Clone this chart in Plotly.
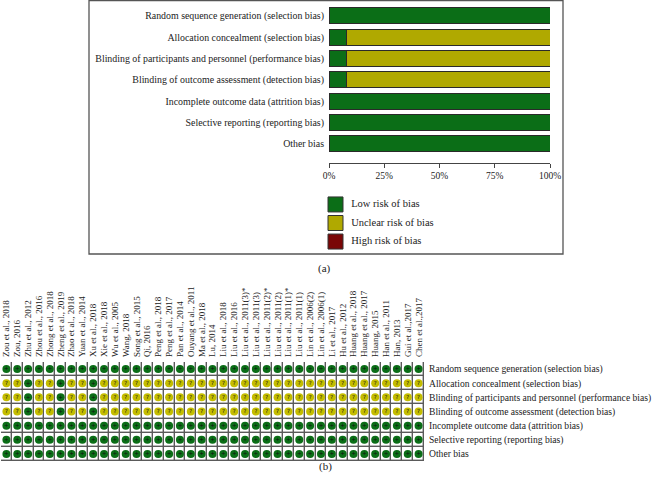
import plotly.graph_objects as go

domains = [
    "Random sequence generation (selection bias)",
    "Allocation concealment (selection bias)",
    "Blinding of participants and personnel (performance bias)",
    "Blinding of outcome assessment (detection bias)",
    "Incomplete outcome data (attrition bias)",
    "Selective reporting (reporting bias)",
    "Other bias",
]

studies = [
    "Zou et al., 2018", "Zou, 2016", "Zhu et al., 2012", "Zhou et al., 2016",
    "Zhong et al., 2018", "Zheng et al., 2019", "Zhao et al., 2018", "Yuan et al., 2014",
    "Xu et al., 2018", "Xie et al., 2018", "Wu et al., 2005", "Wang, 2018",
    "Song et al., 2015", "Qi, 2016", "Peng et al., 2018", "Peng et al., 2017",
    "Pan et al., 2014", "Ouyang et al., 2011", "Ma et al., 2018", "Lu, 2014",
    "Liu et al., 2018", "Liu et al., 2016", "Liu et al., 2011(3)*", "Liu et al., 2011(3)",
    "Liu et al., 2011(2)*", "Liu et al., 2011(2)", "Liu et al., 2011(1)*", "Liu et al., 2011(1)",
    "Lin et al., 2006(2)", "Lin et al., 2006(1)", "Li et al., 2017", "Hu et al., 2012",
    "Huang et al., 2018", "Huang et al., 2017", "Huang, 2015", "Han et al., 2011",
    "Han, 2013", "Gui et al.,2017", "Chen et al.,2017",
]

# judgements per domain ("+" low risk, "?" unclear, "-" high), one char per study (groups of 10)
judgements = [
    "++++++++++ ++++++++++ ++++++++++ +++++++++",
    "??+??+??+? ?????????? ?????????? ?????????",
    "??+??+??+? ?????????? ?????????? ?????????",
    "??+??+??+? ?????????? ?????????? ?????????",
    "++++++++++ ++++++++++ ++++++++++ +++++++++",
    "++++++++++ ++++++++++ ++++++++++ +++++++++",
    "++++++++++ ++++++++++ ++++++++++ +++++++++",
]
judgements = [j.replace(" ", "") for j in judgements]

legend_labels = ["Low risk of bias", "Unclear risk of bias", "High risk of bias"]
risk_symbols = ["+", "?", "-"]
bar_colors = ["#0b6e17", "#b0a900", "#7a0606"]
dot_colors = ["#0b6e17", "#c4bd00", "#7a0606"]
pct_ticks = [0, 25, 50, 75, 100]

W, H = 653, 481

SERIF = "Liberation Serif"
fig = go.Figure()

# ---- panel (a): stacked summary bars
n = len(studies)
for k, sym in enumerate(risk_symbols):
    vals = [100.0 * row.count(sym) / n for row in judgements]
    fig.add_trace(go.Bar(
        x=vals, y=list(range(len(domains))), orientation="h",
        marker=dict(color=bar_colors[k], line=dict(color="#2a2a2a", width=1)),
        width=0.75, showlegend=False, xaxis="x", yaxis="y",
    ))

# ---- legend for panel (a)
fig.add_trace(go.Scatter(
    x=[0] * len(legend_labels), y=list(range(len(legend_labels))),
    mode="markers+text", text=["  " + t for t in legend_labels],
    textposition="middle right", textfont=dict(size=10.5, color="#222", family=SERIF),
    marker=dict(symbol="square", size=15, color=bar_colors, line=dict(color="#333", width=1)),
    showlegend=False, xaxis="x3", yaxis="y3", cliponaxis=False,
))

# ---- panel (b): grid of judgements
rows = list(range(len(domains)))
cols = list(range(n))
fig.add_trace(go.Heatmap(
    x=cols, y=rows, z=[[0] * n for _ in rows],
    colorscale=[[0, "#5a5a5a"], [1, "#5a5a5a"]], showscale=False,
    xaxis="x4", yaxis="y4", hoverinfo="skip",
))
fig.add_trace(go.Heatmap(
    x=cols, y=rows, z=[[1] * n for _ in rows],
    colorscale=[[0, "#ffffff"], [1, "#ffffff"]], showscale=False,
    xgap=1.4, ygap=1.4, xaxis="x4", yaxis="y4", hoverinfo="skip",
))
for k, sym in enumerate(risk_symbols):
    xs, ys = [], []
    for i, row in enumerate(judgements):
        for j, c in enumerate(row):
            if c == sym:
                xs.append(j)
                ys.append(i)
    if not xs:
        continue
    fig.add_trace(go.Scatter(
        x=xs, y=ys, mode="markers+text", text=[sym] * len(xs),
        textposition="middle center", textfont=dict(size=5.5, color="#111", family="DejaVu Sans"),
        marker=dict(symbol="circle", size=8, color=dot_colors[k], line=dict(width=0)),
        showlegend=False, xaxis="x4", yaxis="y4",
    ))

def px_x(a, b):
    return [a / W, b / W]

def px_y(top, bottom):
    return [1 - bottom / H, 1 - top / H]

def pxx(a):
    return a / W

def pxy(a):
    return 1 - a / H

fig.update_layout(
    width=W, height=H, margin=dict(l=0, r=0, t=0, b=0),
    paper_bgcolor="white", plot_bgcolor="white", hovermode=False,
    font=dict(family=SERIF, color="#222", size=10),
    xaxis=dict(domain=px_x(329, 550), range=[0, 100], tickvals=pct_ticks,
               ticktext=[f"{v}%" for v in pct_ticks], showline=True, linecolor="#444",
               linewidth=1, ticks="outside", ticklen=4, tickcolor="#444", showgrid=False,
               zeroline=False, tickfont=dict(size=9.5), anchor="y", automargin=False),
    yaxis=dict(domain=px_y(5.3, 163), range=[6.9, -0.5], tickvals=rows, ticktext=domains,
               showgrid=False, zeroline=False, showline=False, ticks="",
               tickfont=dict(size=9.9), anchor="x", ticklabelstandoff=4, automargin=False),
    barmode="stack", bargap=0,
    xaxis3=dict(domain=px_x(320, 560), range=[-15.5, 224.5], visible=False, anchor="y3",
                automargin=False),
    yaxis3=dict(domain=px_y(195, 251), range=[2.51, -0.51], visible=False, anchor="x3",
                automargin=False),
    xaxis4=dict(domain=px_x(1, 424), range=[-0.5, n - 0.5], side="top", tickvals=cols,
                ticktext=studies, tickangle=-90, tickfont=dict(size=9), showgrid=False,
                zeroline=False, ticks="", anchor="y4", automargin=False, ticklabelstandoff=4),
    yaxis4=dict(domain=px_y(362, 461), range=[len(domains) - 0.5, -0.5], side="right",
                tickvals=rows, ticktext=domains, tickfont=dict(size=9.6), showgrid=False,
                zeroline=False, ticks="", anchor="x4", automargin=False, ticklabelstandoff=4),
    shapes=[dict(type="rect", xref="paper", yref="paper", x0=pxx(89), x1=pxx(563),
                 y0=pxy(254), y1=pxy(0.6), line=dict(color="#555", width=1.3))],
    annotations=[
        dict(text="(a)", x=pxx(324), y=pxy(268), xref="paper", yref="paper",
             showarrow=False, font=dict(size=11)),
        dict(text="(b)", x=pxx(325), y=pxy(475), xref="paper", yref="paper",
             showarrow=False, font=dict(size=11)),
    ],
)

# remove the default 8px page margin so the figure fills the window exactly
fig.write_html("out.html", config={"displayModeBar": False, "staticPlot": True},
               post_script="document.body.style.margin='0';")
